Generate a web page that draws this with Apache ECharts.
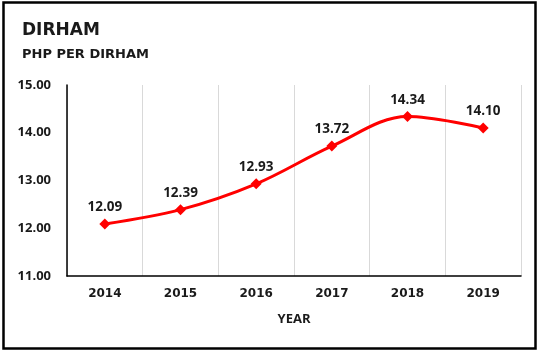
<!DOCTYPE html>
<html>
<head>
<meta charset="utf-8">
<script src="https://cdn.jsdelivr.net/npm/echarts@6/dist/echarts.min.js"></script>
<style>
  html, body { margin: 0; padding: 0; background: #fff; }
  #chart { width: 539px; height: 351px; }
</style>
</head>
<body>
<div id="chart"></div>
<script>
// PHP per dirham, yearly
const years = ['2014', '2015', '2016', '2017', '2018', '2019'];
const rates = [12.09, 12.39, 12.93, 13.72, 14.34, 14.10];
const yTicks = { min: 11, max: 15, step: 1 };

const chart = echarts.init(document.getElementById('chart'), null, { renderer: 'canvas' });

const labelFont = '"Open Sans", "Liberation Sans", sans-serif';
const headFont = '"DejaVu Sans", sans-serif';

chart.setOption({
  backgroundColor: '#ffffff',
  animation: false,
  title: [
    {
      text: 'DIRHAM',
      left: 17, top: 17,
      textStyle: { fontFamily: headFont, fontWeight: 'bold', fontSize: 17, color: '#1a1a1a' }
    },
    {
      text: 'PHP PER DIRHAM',
      left: 17, top: 43,
      textStyle: { fontFamily: headFont, fontWeight: 'bold', fontSize: 13, color: '#1a1a1a' }
    }
  ],
  graphic: [{
    type: 'rect',
    shape: { x: 3.5, y: 2.5, width: 532, height: 346 },
    style: { fill: 'none', stroke: '#000', lineWidth: 2.5 },
    silent: true
  }],
  grid: { left: 67, right: 18, top: 85, bottom: 75 },
  xAxis: {
    type: 'category',
    data: years,
    boundaryGap: true,
    name: 'YEAR',
    nameLocation: 'middle',
    nameGap: 37,
    nameTextStyle: { fontFamily: labelFont, fontWeight: 'bold', fontSize: 13, color: '#1a1a1a' },
    axisLine: { lineStyle: { color: '#000', width: 1.5 } },
    axisTick: { show: false },
    axisLabel: {
      margin: 12,
      fontFamily: headFont, fontWeight: 'bold', fontSize: 12, color: '#1a1a1a'
    },
    splitLine: { show: true, lineStyle: { color: '#d9d9d9', width: 1 } }
  },
  yAxis: {
    type: 'value',
    min: yTicks.min, max: yTicks.max, interval: yTicks.step,
    axisLine: { show: true, lineStyle: { color: '#000', width: 1.5 } },
    axisTick: { show: false },
    splitLine: { show: false },
    axisLabel: {
      margin: 16,
      formatter: v => v.toFixed(2),
      fontFamily: labelFont, fontWeight: 'bold', fontSize: 13, color: '#1a1a1a'
    }
  },
  series: [{
    type: 'line',
    data: rates,
    smooth: 0.35,
    symbol: 'diamond',
    symbolSize: 11,
    lineStyle: { color: '#ff0000', width: 3 },
    itemStyle: { color: '#ff0000' },
    label: {
      show: true,
      position: 'top',
      distance: 4,
      formatter: p => p.value.toFixed(2),
      fontFamily: labelFont, fontWeight: 'bold', fontSize: 13.5, color: '#1a1a1a'
    }
  }]
});
</script>
</body>
</html>
